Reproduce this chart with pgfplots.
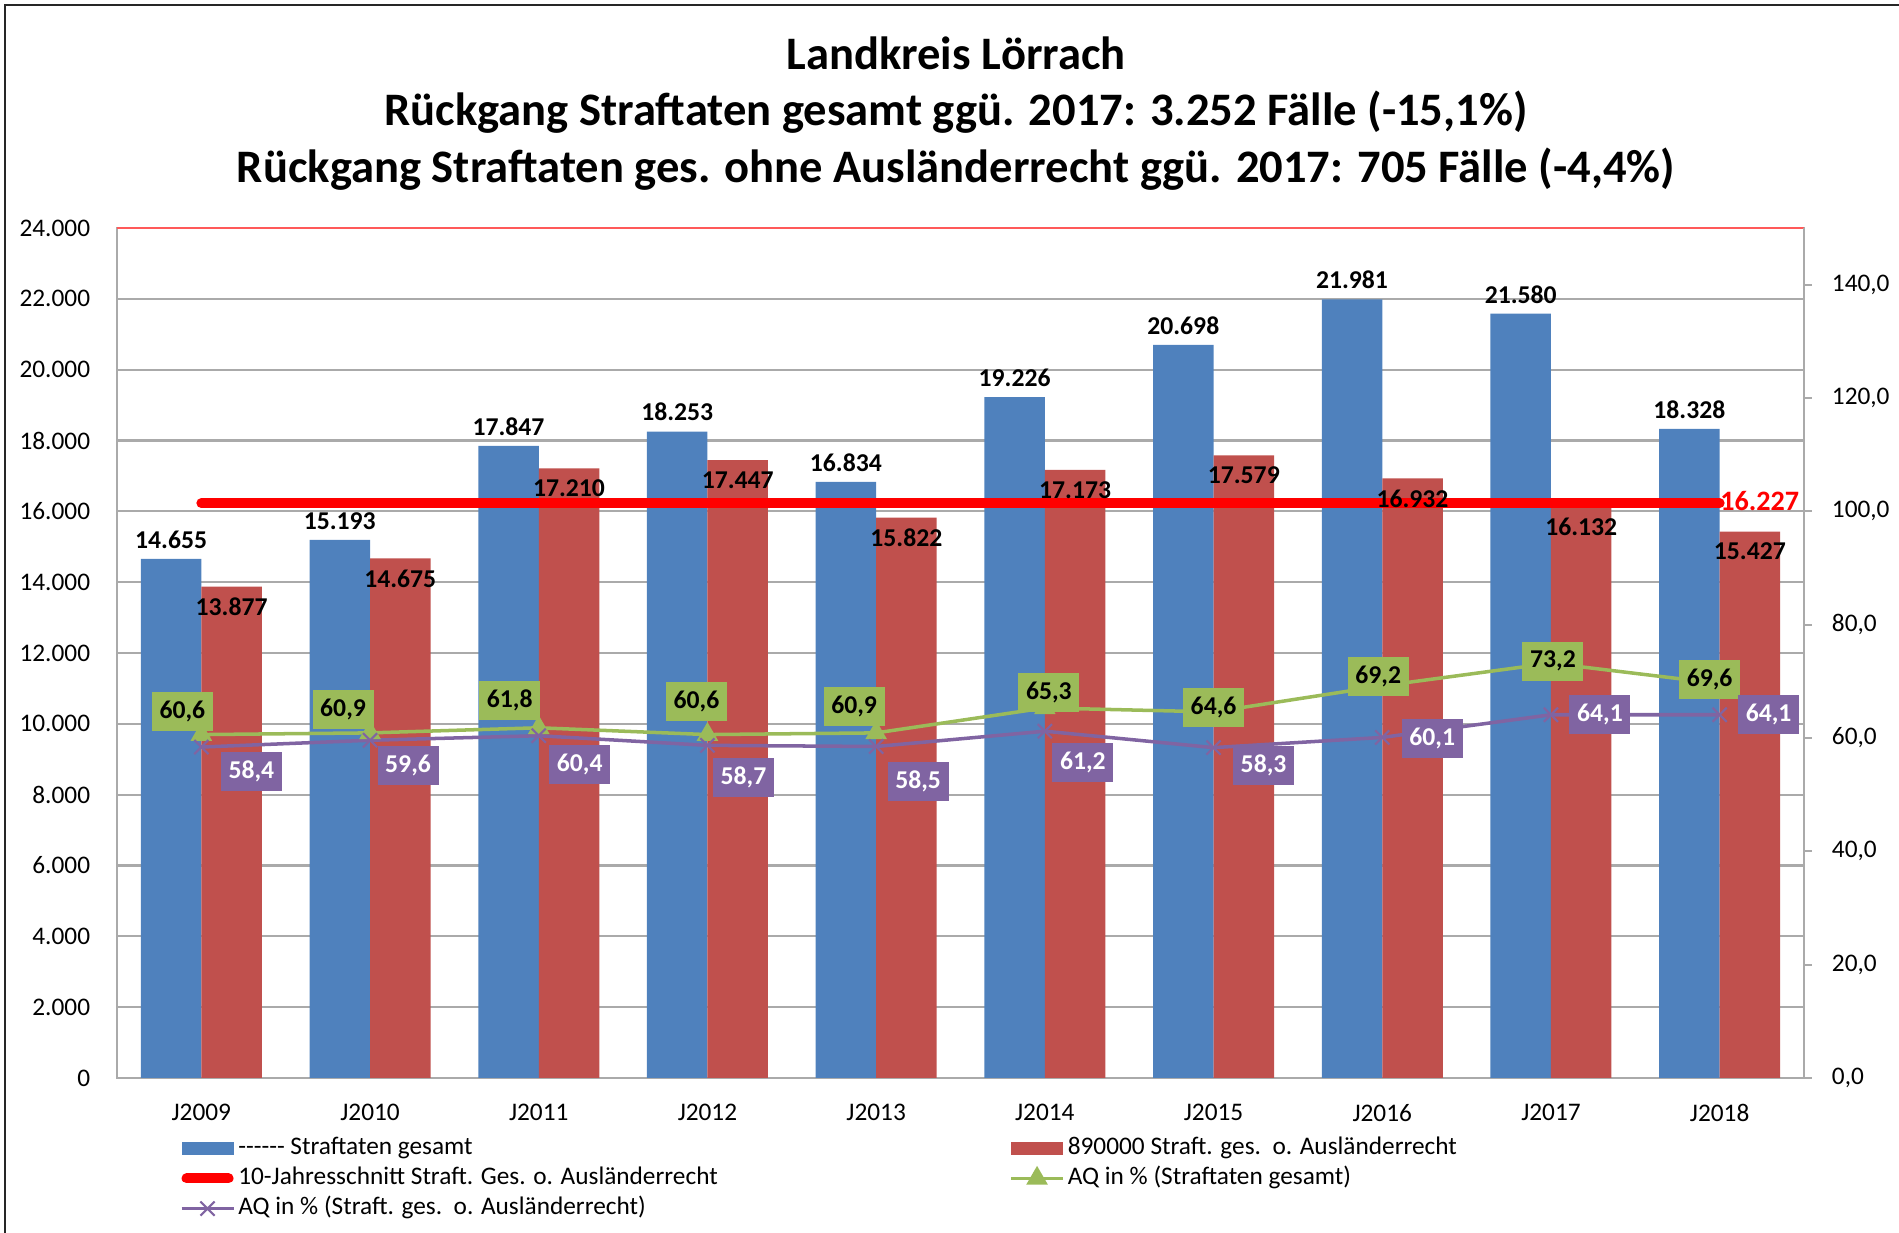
\documentclass[border=0pt]{standalone}
\usepackage{fontspec}
\setmainfont{Carlito}
\usepackage{pgfplots}
\usepackage{pgfplotstable}
\pgfplotsset{compat=1.18}

\definecolor{barblue}{RGB}{79,129,189}
\definecolor{barred}{RGB}{192,80,77}
\definecolor{aqgreen}{RGB}{155,187,89}
\definecolor{aqpurple}{RGB}{128,100,162}
\definecolor{gridgray}{RGB}{170,170,170}

\newcommand\tickfont{\fontsize{7.2}{8.5}\selectfont}
\newcommand\labfont{\fontsize{7.3}{8.5}\selectfont\bfseries}
\newcommand\titlefont{\fontsize{13.25}{16}\selectfont\bfseries}

\pgfplotsset{
  barlegend/.style={legend image code/.code={\fill[##1] (0mm,-0.65mm) rectangle (5.2mm,0.65mm);}},
  linelegend/.style={legend image code/.code={\draw[##1, mark repeat=2, mark phase=2] plot coordinates {(0mm,0mm) (2.6mm,0mm) (5.2mm,0mm)};}},
  redlegend/.style={legend image code/.code={\draw[##1] (0.5mm,0mm) -- (4.7mm,0mm);}},
}
\tikzset{aqbox/.style={font=\labfont, anchor=center, inner sep=0.3mm,
    minimum width=6.1mm, minimum height=3.9mm}}

% Straftaten je Jahr (x = 0 ... 9 fuer J2009 ... J2018)
\pgfplotstableread{
x blue red
0 14655 13877
1 15193 14675
2 17847 17210
3 18253 17447
4 16834 15822
5 19226 17173
6 20698 17579
7 21981 16932
8 21580 16132
9 18328 15427
}\straf

% AQ in %, dx/dy = Versatz des Labels in mm
\pgfplotstableread{
x aq dx dy
0 60.6 -1.9 2.3
1 60.9 -2.7 2.3
2 61.8 -2.9 2.75
3 60.6 -1.1 3.3
4 60.9 -2.2 2.6
5 65.3 0.4 1.5
6 64.6 0.0 0.4
7 69.2 -0.4 0.9
8 73.2 0.2 0.2
9 69.6 -1.0 0.4
}\aqgesamt

\pgfplotstableread{
x aq dx dy
0 58.4 5.0 -2.4
1 59.6 3.8 -2.5
2 60.4 4.1 -2.9
3 58.7 3.6 -3.2
4 58.5 4.2 -3.5
5 61.2 3.8 -3.1
6 58.3 5.0 -1.8
7 60.1 5.0 -0.1
8 64.1 4.9 0.0
9 64.1 4.9 0.0
}\aqohne

\begin{document}
\begin{tikzpicture}
\path[use as bounding box] (0,0) rectangle (189.9mm,123.3mm);
\draw[black!85, line width=0.15mm] (0.5mm,0) -- (0.5mm,122.8mm) -- (189.9mm,122.8mm);

\node[anchor=base, font=\titlefont] at (95.6mm,116.3mm) {Landkreis Lörrach};
\node[anchor=base, font=\titlefont] at (95.6mm,110.7mm) {Rückgang Straftaten gesamt ggü. 2017: 3.252 Fälle (-15,1\%)};
\node[anchor=base, font=\titlefont] at (95.6mm,105.0mm) {Rückgang Straftaten ges. ohne Ausländerrecht ggü. 2017: 705 Fälle (-4,4\%)};

\begin{axis}[
  at={(11.7mm,15.5mm)}, anchor=south west,
  scale only axis, width=168.7mm, height=85mm,
  xmin=-0.5, xmax=9.5, ymin=0, ymax=24000,
  xtick={0,...,9},
  xticklabels={J2009,J2010,J2011,J2012,J2013,J2014,J2015,J2016,J2017,J2018},
  ytick distance=2000,
  scaled y ticks=false,
  ymajorgrids,
  grid style={gridgray, line width=0.6pt},
  axis line style={gridgray, line width=0.6pt},
  major tick length=0pt,
  tick label style={font=\tickfont},
  xticklabel style={yshift=-1.4mm},
  yticklabel style={xshift=-1.45mm},
  /pgf/number format/.cd, 1000 sep={.}, assume math mode=true,
]
  \addplot[ybar, bar width=6.05mm, bar shift=-3.025mm, fill=barblue, draw=none]
    table[x=x, y=blue] {\straf};
  \addplot[ybar, bar width=6.05mm, bar shift=3.025mm, fill=barred, draw=none]
    table[x=x, y=red] {\straf};
  \draw[red!65, line width=0.6pt] (rel axis cs:0,1) -- (rel axis cs:1,1);
  % 10-Jahresschnitt
  \addplot[red, line width=1mm, line cap=round]
    coordinates {(0,16227) (1,16227) (2,16227) (3,16227) (4,16227)
                 (5,16227) (6,16227) (7,16227) (8,16227) (9,16227)};
  % Datenbeschriftungen
  \addplot[draw=none, nodes near coords,
    every node near coord/.append style={font=\labfont, anchor=south, xshift=-3.025mm, yshift=-0.2mm}]
    table[x=x, y=blue] {\straf};
  \addplot[draw=none, nodes near coords,
    every node near coord/.append style={font=\labfont, anchor=north, xshift=3.025mm, yshift=0.1mm}]
    table[x=x, y=red] {\straf};
  \addplot[draw=none, nodes near coords,
    every node near coord/.append style={font=\fontsize{8}{9}\selectfont\bfseries, text=red, anchor=west, inner sep=0pt, yshift=0.2mm}]
    coordinates {(9,16227)};
\end{axis}

\begin{axis}[
  at={(11.7mm,15.5mm)}, anchor=south west,
  scale only axis, width=168.7mm, height=85mm,
  xmin=-0.5, xmax=9.5, ymin=0, ymax=150,
  ytick={0,20,...,140},
  axis x line=none,
  axis y line*=right,
  y axis line style={gridgray, line width=0.6pt},
  tick align=outside,
  major tick length=0.75mm,
  tick style={gridgray, line width=0.6pt},
  tick label style={font=\tickfont},
  yticklabel style={xshift=0.8mm},
  legend columns=2,
  legend style={at={(0.0368,-0.064)}, anchor=north west, draw=none, fill=none,
    font=\tickfont, inner sep=0pt, row sep=0pt,
    nodes={inner sep=0.3mm, text height=1.8mm, text depth=0.62mm}},
  legend cell align=left,
  /pgf/number format/.cd, fixed, fixed zerofill, precision=1, use comma, assume math mode=true,
]
  \addlegendimage{fill=barblue, draw=none, barlegend}
  \addlegendentry{\makebox[76.8mm][l]{-{}-{}-{}-{}-{}- Straftaten gesamt}}
  \addlegendimage{fill=barred, draw=none, barlegend}
  \addlegendentry{890000 Straft. ges.\ \ o. Ausländerrecht}
  \addlegendimage{red, line width=1mm, line cap=round, redlegend}
  \addlegendentry{\makebox[76.8mm][l]{10-Jahresschnitt Straft. Ges. o. Ausländerrecht}}

  \addplot[aqgreen, line width=1pt, mark=triangle*, mark size=0.9mm, linelegend]
    table[x=x, y=aq] {\aqgesamt};
  \addlegendentry{AQ in \% (Straftaten gesamt)}
  \addplot[aqpurple, line width=1pt, mark=x, mark size=1mm, mark options={line width=0.6pt}, linelegend]
    table[x=x, y=aq] {\aqohne};
  \addlegendentry{\makebox[76.8mm][l]{AQ in \% (Straft. ges.\ \ o. Ausländerrecht)}}

  % Beschriftungen: Position = Punkt + Versatz (mm in Achseneinheiten umgerechnet)
  \addplot[draw=none, forget plot, point meta=explicit, nodes near coords,
    every node near coord/.append style={aqbox, fill=aqgreen, text=black}]
    table[x expr=\thisrow{x}+\thisrow{dx}/16.87, y expr=\thisrow{aq}+\thisrow{dy}/0.56667, meta=aq] {\aqgesamt};
  \addplot[draw=none, forget plot, point meta=explicit, nodes near coords,
    every node near coord/.append style={aqbox, fill=aqpurple, text=white}]
    table[x expr=\thisrow{x}+\thisrow{dx}/16.87, y expr=\thisrow{aq}+\thisrow{dy}/0.56667, meta=aq] {\aqohne};
\end{axis}
\end{tikzpicture}
\end{document}
